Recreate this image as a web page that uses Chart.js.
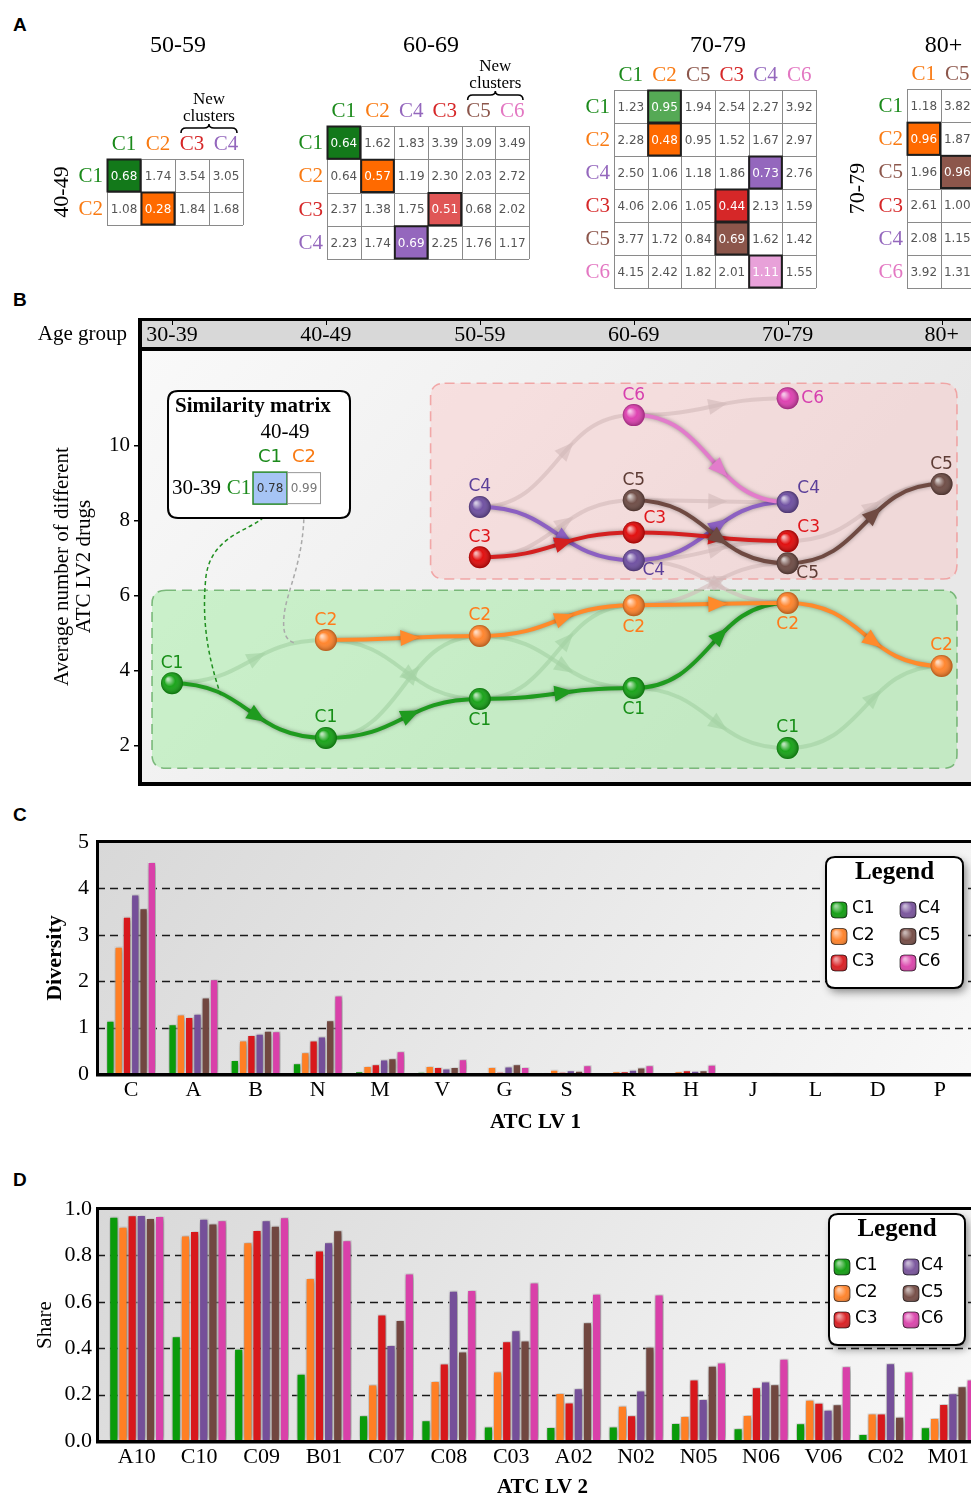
<!DOCTYPE html>
<html lang="en">
<head>
<meta charset="UTF-8">
<title>Clusters by age group</title>
<script src="https://cdn.jsdelivr.net/npm/chart.js"></script>
<style>
  html, body { margin: 0; padding: 0; background: #fff; overflow: hidden; }
  #page { position: relative; width: 971px; height: 1497px; overflow: hidden; }
  #page canvas { position: absolute; }
  .tag { position: absolute; font: bold 19px "Liberation Sans", Arial, sans-serif; color: #000; }
</style>
</head>
<body>
<div id="page">
  <div class="tag" style="left:13px;top:14px">A</div>
  <div class="tag" style="left:13px;top:289px">B</div>
  <div class="tag" style="left:13px;top:804px">C</div>
  <div class="tag" style="left:13px;top:1169px">D</div>
  <canvas id="m1" width="210" height="215" style="left:40px;top:20px"></canvas>
  <canvas id="m2" width="260" height="250" style="left:280px;top:20px"></canvas>
  <canvas id="m3" width="260" height="275" style="left:570px;top:20px"></canvas>
  <canvas id="m4" width="150" height="275" style="left:840px;top:20px"></canvas>
  <canvas id="flow" width="1010" height="510" style="left:0;top:290px"></canvas>
  <canvas id="lv1" width="990" height="324" style="left:0;top:816px"></canvas>
  <canvas id="lv2" width="990" height="329" style="left:0;top:1181px"></canvas>
</div>
<script>
// ---- panel A: similarity matrices ----
const m1Cols = ['C1', 'C2', 'C3', 'C4'];
const m1Rows = ['C1', 'C2'];
const m1Values = [
  [0.68, 1.74, 3.54, 3.05],
  [1.08, 0.28, 1.84, 1.68]
];
const m1Best = [[0, 0], [1, 1]];

const m2Cols = ['C1', 'C2', 'C4', 'C3', 'C5', 'C6'];
const m2Rows = ['C1', 'C2', 'C3', 'C4'];
const m2Values = [
  [0.64, 1.62, 1.83, 3.39, 3.09, 3.49],
  [0.64, 0.57, 1.19, 2.30, 2.03, 2.72],
  [2.37, 1.38, 1.75, 0.51, 0.68, 2.02],
  [2.23, 1.74, 0.69, 2.25, 1.76, 1.17]
];
const m2Best = [[0, 0], [1, 1], [2, 3], [3, 2]];

const m3Cols = ['C1', 'C2', 'C5', 'C3', 'C4', 'C6'];
const m3Rows = ['C1', 'C2', 'C4', 'C3', 'C5', 'C6'];
const m3Values = [
  [1.23, 0.95, 1.94, 2.54, 2.27, 3.92],
  [2.28, 0.48, 0.95, 1.52, 1.67, 2.97],
  [2.50, 1.06, 1.18, 1.86, 0.73, 2.76],
  [4.06, 2.06, 1.05, 0.44, 2.13, 1.59],
  [3.77, 1.72, 0.84, 0.69, 1.62, 1.42],
  [4.15, 2.42, 1.82, 2.01, 1.11, 1.55]
];
const m3Best = [[0, 1], [1, 1], [2, 4], [3, 3], [4, 3], [5, 4]];

const m4Cols = ['C1', 'C5'];
const m4Rows = ['C1', 'C2', 'C5', 'C3', 'C4', 'C6'];
const m4Values = [
  [1.18, 3.82],
  [0.96, 1.87],
  [1.96, 0.96],
  [2.61, 1.00],
  [2.08, 1.15],
  [3.92, 1.31]
];
const m4Best = [[1, 0], [2, 1]];

// ---- panel B: cluster trajectories ----
const ageGroups = ['30-39', '40-49', '50-59', '60-69', '70-79', '80+'];
const nodeAge = [0, 1, 1, 2, 2, 2, 2, 3, 3, 3, 3, 3, 3, 4, 4, 4, 4, 4, 4, 5, 5];
const nodeCluster = ['C1', 'C1', 'C2', 'C1', 'C2', 'C3', 'C4', 'C1', 'C2', 'C3', 'C4', 'C5', 'C6',
                     'C1', 'C2', 'C3', 'C4', 'C5', 'C6', 'C2', 'C5'];
const nodeValue = [3.67, 2.21, 4.82, 3.25, 4.93, 7.03, 8.37, 3.54, 5.75, 7.69, 6.95, 8.55, 10.82,
                   1.94, 5.81, 7.46, 8.50, 6.87, 11.27, 4.13, 8.98];
const mainLinks = [[0, 1], [1, 3], [3, 7], [7, 14], [2, 4], [4, 8], [8, 14], [14, 19],
                   [6, 10], [10, 16], [5, 9], [9, 15], [12, 16], [11, 17], [17, 20]];
const otherLinks = [[0, 2], [2, 3], [1, 4], [4, 7], [3, 8], [7, 13], [13, 19],
                    [6, 12], [5, 11], [12, 18], [11, 16], [10, 15], [15, 20], [10, 14], [8, 17]];
const flowTicks = [2, 4, 6, 8, 10];
const insetValues = [0.78, 0.99];

// ---- panels C and D ----
const atcLv1 = ['C', 'A', 'B', 'N', 'M', 'V', 'G', 'S', 'R', 'H', 'J', 'L', 'D', 'P'];
const divC1 = [1.15, 1.07, 0.30, 0.23, 0.06, 0.05, 0.04, 0.04, 0.02, 0.02, 0.01, 0.005, 0.005, 0.005];
const divC2 = [2.74, 1.28, 0.72, 0.47, 0.17, 0.17, 0.15, 0.09, 0.06, 0.06, 0.02, 0.01, 0.01, 0.01];
const divC3 = [3.39, 1.23, 0.84, 0.72, 0.21, 0.15, 0.05, 0.05, 0.06, 0.08, 0.02, 0.01, 0.01, 0.01];
const divC4 = [3.87, 1.30, 0.87, 0.81, 0.31, 0.12, 0.16, 0.08, 0.09, 0.07, 0.02, 0.01, 0.01, 0.01];
const divC5 = [3.57, 1.65, 0.93, 1.16, 0.34, 0.15, 0.21, 0.07, 0.14, 0.08, 0.02, 0.02, 0.01, 0.01];
const divC6 = [4.57, 2.04, 0.92, 1.69, 0.49, 0.32, 0.15, 0.19, 0.19, 0.20, 0.04, 0.03, 0.01, 0.01];
const divTicks = [0, 1, 2, 3, 4, 5];

const atcLv2 = ['A10', 'C10', 'C09', 'B01', 'C07', 'C08', 'C03', 'A02', 'N02', 'N05', 'N06', 'V06', 'C02', 'M01'];
const shareC1 = [0.967, 0.451, 0.398, 0.290, 0.111, 0.089, 0.062, 0.060, 0.062, 0.078, 0.055, 0.076, 0.030, 0.059];
const shareC2 = [0.924, 0.886, 0.857, 0.703, 0.244, 0.259, 0.300, 0.207, 0.152, 0.108, 0.112, 0.178, 0.118, 0.099];
const shareC3 = [0.973, 0.905, 0.909, 0.821, 0.545, 0.334, 0.430, 0.166, 0.111, 0.265, 0.232, 0.165, 0.118, 0.160];
const shareC4 = [0.974, 0.958, 0.952, 0.857, 0.414, 0.648, 0.477, 0.227, 0.218, 0.181, 0.256, 0.135, 0.335, 0.206];
const shareC5 = [0.961, 0.938, 0.928, 0.908, 0.522, 0.386, 0.433, 0.512, 0.406, 0.324, 0.245, 0.158, 0.104, 0.236];
const shareC6 = [0.970, 0.952, 0.964, 0.865, 0.722, 0.651, 0.683, 0.635, 0.632, 0.338, 0.354, 0.322, 0.300, 0.265];
const shareTicks = [0, 0.2, 0.4, 0.6, 0.8, 1.0];

// ---- styling ----
const serif = '"Liberation Serif", "Times New Roman", serif';
const sans = '"DejaVu Sans", sans-serif';
const labelColor = { C1: '#1b8a1b', C2: '#f97a12', C3: '#d62728', C4: '#9467bd', C5: '#8c564b', C6: '#e377c2' };
const nodeColor = { C1: '#10a010', C2: '#ff8025', C3: '#e00404', C4: '#6a4a9e', C5: '#6a4740', C6: '#dd3aae' };
const nodeText = { C1: '#168e16', C2: '#ff7b1a', C3: '#e0161b', C4: '#5b3f99', C5: '#5e3c35', C6: '#d63fae' };
const linkColor = { C1: '#1f9b1f', C2: '#ff8a2b', C3: '#d42020', C4: '#8c60c2', C5: '#6f4a42', C6: '#e27ccb' };
const barColors = ['#0a9b0a', '#ff7f24', '#d8181c', '#754f99', '#714740', '#d940a9'];
// where each node label sits: above, below, right, above-right, below-right
const nodeLabelPos = ['a', 'a', 'a', 'b', 'a', 'a', 'a', 'b', 'b', 'ar', 'br', 'a', 'a',
                      'a', 'b', 'ar', 'ar', 'br', 'r', 'a', 'a'];
const labelOffset = { a: [0, -20], b: [0, 22], r: [25, 0], ar: [21, -14], br: [20, 10] };

Chart.defaults.font.family = sans;
Chart.defaults.animation = false;
Chart.defaults.responsive = false;
Chart.defaults.events = [];
Chart.defaults.plugins.legend.display = false;
Chart.defaults.plugins.tooltip.enabled = false;

function rrect(ctx, x, y, w, h, r) {
  ctx.beginPath();
  ctx.moveTo(x + r, y);
  ctx.lineTo(x + w - r, y); ctx.quadraticCurveTo(x + w, y, x + w, y + r);
  ctx.lineTo(x + w, y + h - r); ctx.quadraticCurveTo(x + w, y + h, x + w - r, y + h);
  ctx.lineTo(x + r, y + h); ctx.quadraticCurveTo(x, y + h, x, y + h - r);
  ctx.lineTo(x, y + r); ctx.quadraticCurveTo(x, y, x + r, y);
  ctx.closePath();
}

// matrix cells are floating bars [row, row+1] on a reversed y scale
function matrix(id, title, cols, rows, values, best, bestFill, deco) {
  const colColors = deco.colColors || cols.map(c => labelColor[c]);
  const isBest = (r, c) => best.some(b => b[0] === r && b[1] === c);
  const plugin = {
    id: 'matrixDeco',
    afterDatasetsDraw(chart) {
      const { ctx, chartArea: a, scales: { x, y } } = chart;
      ctx.save();
      ctx.strokeStyle = '#8a8a8a';
      ctx.lineWidth = 1;
      ctx.beginPath();
      for (let r = 0; r <= rows.length; r++) {
        const py = Math.round(y.getPixelForValue(r)) + 0.5;
        ctx.moveTo(a.left, py); ctx.lineTo(a.right, py);
      }
      for (let c = 0; c <= cols.length; c++) {
        const px = Math.round(x.getPixelForValue(c - 0.5)) + 0.5;
        ctx.moveTo(px, a.top); ctx.lineTo(px, a.bottom);
      }
      ctx.stroke();
      ctx.textAlign = 'center';
      ctx.textBaseline = 'middle';
      rows.forEach((row, r) => {
        chart.getDatasetMeta(r).data.forEach((el, c) => {
          const top = Math.min(el.y, el.base), h = Math.abs(el.base - el.y);
          const b = isBest(r, c);
          if (b) {
            ctx.lineWidth = 2;
            ctx.strokeStyle = '#1e1e1e';
            ctx.strokeRect(el.x - el.width / 2 + 0.5, top + 0.5, el.width - 1, h - 1);
          }
          ctx.fillStyle = b ? '#ffffff' : '#555555';
          ctx.font = '12px ' + sans;
          ctx.fillText(values[r][c].toFixed(2), el.x, top + h / 2 + 1);
        });
      });
      ctx.font = '21px ' + serif;
      cols.forEach((c, i) => {
        ctx.fillStyle = colColors[i];
        ctx.fillText(c, x.getPixelForValue(i), a.top - 15);
      });
      ctx.textAlign = 'right';
      rows.forEach((r, i) => {
        ctx.fillStyle = labelColor[r];
        ctx.fillText(r, a.left - 4, y.getPixelForValue(i + 0.5) + 1);
      });
      ctx.textAlign = 'center';
      ctx.fillStyle = '#000';
      ctx.font = '24px ' + serif;
      ctx.fillText(title, (a.left + a.right) / 2 + 3, 26);
      if (deco.newFrom !== undefined) {
        const x0 = x.getPixelForValue(deco.newFrom - 0.5) + 6;
        const x1 = x.getPixelForValue(deco.newTo + 0.5) - 6;
        const by = a.top - 31, xm = (x0 + x1) / 2;
        ctx.strokeStyle = '#000';
        ctx.lineWidth = 1.6;
        ctx.beginPath();
        ctx.moveTo(x0, by + 5); ctx.quadraticCurveTo(x0, by, x0 + 5, by);
        ctx.lineTo(xm - 5, by); ctx.quadraticCurveTo(xm, by, xm, by - 4);
        ctx.quadraticCurveTo(xm, by, xm + 5, by);
        ctx.lineTo(x1 - 5, by); ctx.quadraticCurveTo(x1, by, x1, by + 5);
        ctx.stroke();
        ctx.font = '17px ' + serif;
        ctx.fillText('New', xm, by - 28);
        ctx.fillText('clusters', xm, by - 11);
      }
      if (deco.group) {
        ctx.translate(deco.groupX, (a.top + a.bottom) / 2);
        ctx.rotate(-Math.PI / 2);
        ctx.font = '22px ' + serif;
        ctx.fillText(deco.group, 0, 0);
      }
      ctx.restore();
    }
  };
  return new Chart(document.getElementById(id), {
    type: 'bar',
    data: {
      labels: cols,
      datasets: rows.map((r, ri) => ({
        label: r,
        data: cols.map(() => [ri, ri + 1]),
        backgroundColor: cols.map((c, ci) => {
          const k = best.findIndex(b => b[0] === ri && b[1] === ci);
          return k < 0 ? '#ffffff' : bestFill[k];
        }),
        borderWidth: 0,
        grouped: false,
        barPercentage: 1,
        categoryPercentage: 1
      }))
    },
    options: {
      layout: { padding: deco.pad },
      scales: {
        x: { display: false },
        y: { display: false, min: 0, max: rows.length, reverse: true }
      }
    },
    plugins: [plugin]
  });
}

matrix('m1', '50-59', m1Cols, m1Rows, m1Values, m1Best, ['#13791a', '#ff6a00'],
  { pad: { left: 67, top: 139, right: 7, bottom: 10 }, newFrom: 2, newTo: 3, group: '40-49', groupX: 22 });
matrix('m2', '60-69', m2Cols, m2Rows, m2Values, m2Best, ['#13791a', '#ff6a00', '#e05656', '#9467bd'],
  { pad: { left: 47, top: 106, right: 11, bottom: 11 }, newFrom: 4, newTo: 5 });
matrix('m3', '70-79', m3Cols, m3Rows, m3Values, m3Best,
  ['#55a955', '#ff6a00', '#9467bd', '#d62728', '#8c564b', '#e8a1d9'],
  { pad: { left: 44, top: 70, right: 14, bottom: 7 } });
matrix('m4', '80+', m4Cols, m4Rows, m4Values, m4Best, ['#ff6a00', '#8c564b'],
  { pad: { left: 67, top: 69, right: 16, bottom: 7 }, group: '70-79', groupX: 18,
    colColors: ['#f97a12', '#8c564b'] });

// ---- panel B ----
function bezAt(p, q, t) {
  const mx = (p.x + q.x) / 2, u = 1 - t;
  return {
    x: u * u * u * p.x + 3 * u * u * t * mx + 3 * u * t * t * mx + t * t * t * q.x,
    y: u * u * u * p.y + 3 * u * u * t * p.y + 3 * u * t * t * q.y + t * t * t * q.y
  };
}
function drawLink(ctx, p, q, color) {
  const mx = (p.x + q.x) / 2;
  ctx.strokeStyle = color;
  ctx.fillStyle = color;
  ctx.lineWidth = 4;
  ctx.beginPath();
  ctx.moveTo(p.x, p.y);
  ctx.bezierCurveTo(mx, p.y, mx, q.y, q.x, q.y);
  ctx.stroke();
  const tip = bezAt(p, q, 0.64), back = bezAt(p, q, 0.58);
  const ang = Math.atan2(tip.y - back.y, tip.x - back.x);
  const c = Math.cos(ang), s = Math.sin(ang), len = 19, half = 8;
  ctx.beginPath();
  ctx.moveTo(tip.x, tip.y);
  ctx.lineTo(tip.x - len * c - half * s, tip.y - len * s + half * c);
  ctx.lineTo(tip.x - len * c + half * s, tip.y - len * s - half * c);
  ctx.closePath();
  ctx.fill();
}

const greenZone = { x: [-0.13, 5.1], y: [6.15, 1.4] };
const pinkZone = { x: [1.68, 5.1], y: [11.67, 6.45] };
const insetAnchor = [-0.026, 11.46];

const flowDeco = {
  id: 'flowDeco',
  beforeDraw(chart) {
    const { ctx, chartArea: a, width } = chart;
    ctx.save();
    const g = ctx.createLinearGradient(a.left, a.top, a.left + 500, a.bottom);
    g.addColorStop(0, '#f9f9f9');
    g.addColorStop(1, '#e8e8e8');
    ctx.fillStyle = g;
    ctx.fillRect(a.left, a.top, width - a.left, a.bottom - a.top);
    ctx.fillStyle = '#d8d8d8';
    ctx.fillRect(a.left, a.top - 30, width - a.left, 26);
    ctx.restore();
  },
  beforeDatasetsDraw(chart) {
    const { ctx, scales: { x, y } } = chart;
    const pts = chart.getDatasetMeta(0).data;
    ctx.save();
    [[greenZone, 'rgba(150,235,150,0.45)', 'rgba(90,165,90,0.75)'],
     [pinkZone, 'rgba(255,190,190,0.35)', 'rgba(240,150,150,0.8)']].forEach(([z, fill, line]) => {
      const x0 = x.getPixelForValue(z.x[0]), x1 = x.getPixelForValue(z.x[1]);
      const y0 = y.getPixelForValue(z.y[0]), y1 = y.getPixelForValue(z.y[1]);
      rrect(ctx, x0, y0, x1 - x0, y1 - y0, 14);
      ctx.fillStyle = fill;
      ctx.fill();
      ctx.setLineDash([10, 6]);
      ctx.lineWidth = 1.6;
      ctx.strokeStyle = line;
      ctx.stroke();
    });
    ctx.setLineDash([]);
    ctx.lineCap = 'round';
    const lowGroup = c => c === 'C1' || c === 'C2';
    otherLinks.forEach(([i, j]) => {
      const both = lowGroup(nodeCluster[i]) && lowGroup(nodeCluster[j]);
      drawLink(ctx, pts[i], pts[j], both ? 'rgba(165,210,165,0.65)' : 'rgba(210,185,185,0.6)');
    });
    ctx.shadowColor = 'rgba(0,0,0,0.35)';
    ctx.shadowBlur = 4;
    mainLinks.forEach(([i, j]) => drawLink(ctx, pts[i], pts[j], linkColor[nodeCluster[i]]));
    ctx.restore();
  },
  afterDatasetsDraw(chart) {
    const { ctx, scales: { x, y } } = chart;
    const pts = chart.getDatasetMeta(0).data;
    ctx.save();
    pts.forEach((el, i) => {
      const g = ctx.createRadialGradient(el.x - 4, el.y - 4, 1, el.x, el.y, 11);
      g.addColorStop(0, 'rgba(255,255,255,0.7)');
      g.addColorStop(0.45, 'rgba(255,255,255,0.05)');
      g.addColorStop(1, 'rgba(0,0,0,0.3)');
      ctx.fillStyle = g;
      ctx.beginPath();
      ctx.arc(el.x, el.y, 11, 0, Math.PI * 2);
      ctx.fill();
      const off = labelOffset[nodeLabelPos[i]];
      ctx.font = '17px ' + sans;
      ctx.textAlign = 'center';
      ctx.textBaseline = 'middle';
      ctx.fillStyle = nodeText[nodeCluster[i]];
      ctx.fillText(nodeCluster[i], el.x + off[0], el.y + off[1]);
    });

    // similarity matrix inset
    const bx = x.getPixelForValue(insetAnchor[0]), by = y.getPixelForValue(insetAnchor[1]);
    ctx.lineWidth = 1.5;
    ctx.setLineDash([4, 3]);
    ctx.strokeStyle = '#1f8f1f';
    ctx.beginPath();
    ctx.moveTo(bx + 102, by + 114);
    ctx.bezierCurveTo(bx + 100, by + 140, bx + 45, by + 135, bx + 38, by + 185);
    ctx.bezierCurveTo(bx + 32, by + 240, bx + 45, by + 280, bx + 53, by + 305);
    ctx.stroke();
    ctx.strokeStyle = '#aaaaaa';
    ctx.beginPath();
    ctx.moveTo(bx + 136, by + 114);
    ctx.bezierCurveTo(bx + 137, by + 170, bx + 118, by + 200, bx + 116, by + 225);
    ctx.bezierCurveTo(bx + 114, by + 245, bx + 120, by + 250, bx + 127, by + 252);
    ctx.stroke();
    ctx.setLineDash([]);
    rrect(ctx, bx, by, 182, 127, 10);
    ctx.fillStyle = '#fff';
    ctx.fill();
    ctx.lineWidth = 2;
    ctx.strokeStyle = '#000';
    ctx.stroke();
    ctx.fillStyle = '#000';
    ctx.textAlign = 'left';
    ctx.font = 'bold 21px ' + serif;
    ctx.fillText('Similarity matrix', bx + 7, by + 15);
    ctx.textAlign = 'center';
    ctx.font = '21px ' + serif;
    ctx.fillText('40-49', bx + 117, by + 41);
    ctx.textAlign = 'left';
    ctx.fillText('30-39', bx + 4, by + 97);
    ctx.textAlign = 'center';
    ctx.fillStyle = labelColor.C1;
    ctx.fillText('C1', bx + 71, by + 97);
    ctx.font = '18px ' + sans;
    ctx.fillText('C1', bx + 102, by + 66);
    ctx.fillStyle = labelColor.C2;
    ctx.fillText('C2', bx + 136, by + 66);
    ctx.fillStyle = '#a6c4f5';
    ctx.fillRect(bx + 85, by + 81, 34, 32);
    ctx.lineWidth = 1.5;
    ctx.strokeStyle = '#2a8a2a';
    ctx.strokeRect(bx + 85, by + 81, 34, 32);
    ctx.lineWidth = 1;
    ctx.strokeStyle = '#999';
    ctx.strokeRect(bx + 119.5, by + 81.5, 33, 31);
    ctx.font = '12px ' + sans;
    ctx.fillStyle = '#333';
    ctx.fillText(insetValues[0].toFixed(2), bx + 102, by + 98);
    ctx.fillStyle = '#777';
    ctx.fillText(insetValues[1].toFixed(2), bx + 136, by + 98);
    ctx.restore();
  },
  afterDraw(chart) {
    const { ctx, chartArea: a, width, scales: { x } } = chart;
    ctx.save();
    ctx.fillStyle = '#000';
    const L = a.left - 4, W = width - L;
    ctx.fillRect(L, a.top - 33, W, 3);
    ctx.fillRect(L, a.top - 4, W, 4);
    ctx.fillRect(L, a.bottom, W, 4);
    ctx.fillRect(L, a.top - 33, 4, a.bottom + 4 - (a.top - 33));
    ageGroups.forEach((g, i) => {
      const px = Math.round(x.getPixelForValue(i)) + 0.5;
      ctx.fillRect(px - 0.5, a.top - 30, 1, 4);
    });
    ctx.font = '21px ' + serif;
    ctx.textAlign = 'right';
    ctx.textBaseline = 'middle';
    ctx.fillText('Age group', a.left - 15, a.top - 17);
    ctx.restore();
  }
};

new Chart(document.getElementById('flow'), {
  type: 'scatter',
  data: {
    datasets: [{
      data: nodeValue.map((v, i) => ({ x: nodeAge[i], y: v })),
      pointRadius: 11,
      backgroundColor: nodeCluster.map(c => nodeColor[c]),
      borderWidth: 0
    }]
  },
  options: {
    layout: { padding: { top: 28, right: 2.7, bottom: 18, left: 0 } },
    scales: {
      x: {
        type: 'linear', position: 'top', min: -0.195, max: 5.373,
        afterFit: s => { s.height = 33; },
        afterBuildTicks: s => { s.ticks = ageGroups.map((g, i) => ({ value: i })); },
        ticks: { callback: v => ageGroups[v], font: { family: serif, size: 22 }, color: '#000',
                 padding: 3, maxRotation: 0, autoSkip: false },
        grid: { display: false, drawTicks: false },
        border: { display: false }
      },
      y: {
        min: 1.035, max: 12.53,
        afterFit: s => { s.width = 142; },
        afterBuildTicks: s => { s.ticks = flowTicks.map(v => ({ value: v })); },
        ticks: { font: { family: serif, size: 21 }, color: '#000', padding: 4 },
        grid: { drawOnChartArea: false, drawTicks: true, tickLength: 8, color: '#000', lineWidth: 1.5 },
        border: { display: false },
        title: {
          display: true,
          text: ['Average number of different', 'ATC LV2 drugs'],
          font: { family: serif, size: 21, lineHeight: 1.05 },
          color: '#000',
          padding: { top: 51, bottom: 0 }
        }
      }
    }
  },
  plugins: [flowDeco]
});

// ---- panels C and D ----
function barDeco(gap, gridVals, legendBox) {
  return {
    id: 'barDeco',
    beforeDraw(chart) {
      const { ctx, chartArea: a, width, scales: { y } } = chart;
      const L = a.left - gap;
      ctx.save();
      const g = ctx.createLinearGradient(L, a.top, L + 760, a.bottom + 260);
      g.addColorStop(0, '#d8d8d8');
      g.addColorStop(1, '#fafafa');
      ctx.fillStyle = g;
      ctx.fillRect(L, a.top, width - L, a.bottom - a.top);
      ctx.strokeStyle = '#1a1a1a';
      ctx.lineWidth = 1.5;
      ctx.setLineDash([8, 5]);
      gridVals.forEach(v => {
        const py = Math.round(y.getPixelForValue(v)) + 0.5;
        ctx.beginPath();
        ctx.moveTo(L, py);
        ctx.lineTo(width, py);
        ctx.stroke();
      });
      ctx.restore();
    },
    beforeDatasetsDraw(chart) {
      const ctx = chart.ctx;
      ctx.save();
      ctx.shadowColor = 'rgba(0,0,0,0.6)';
      ctx.shadowBlur = 6;
      ctx.shadowOffsetX = 1;
      ctx.shadowOffsetY = 0;
    },
    afterDatasetsDraw(chart) {
      chart.ctx.restore();
    },
    afterDraw(chart) {
      const { ctx, chartArea: a, width } = chart;
      const L = a.left - gap;
      ctx.save();
      ctx.fillStyle = '#000';
      ctx.fillRect(L - 1, a.top - 2, width - L, 3);
      ctx.fillRect(L - 1, a.top - 2, 3, a.bottom - a.top + 4);
      ctx.fillRect(L - 1, a.bottom - 1, width - L, 3.5);

      const lx = a.right + legendBox.dx, ly = a.top + legendBox.dy;
      ctx.save();
      ctx.shadowColor = 'rgba(0,0,0,0.45)';
      ctx.shadowBlur = 8;
      ctx.shadowOffsetX = 3;
      ctx.shadowOffsetY = 4;
      rrect(ctx, lx, ly, legendBox.w, legendBox.h, 9);
      ctx.fillStyle = '#fff';
      ctx.fill();
      ctx.restore();
      rrect(ctx, lx, ly, legendBox.w, legendBox.h, 9);
      ctx.lineWidth = 2;
      ctx.strokeStyle = '#000';
      ctx.stroke();
      ctx.fillStyle = '#000';
      ctx.textAlign = 'center';
      ctx.textBaseline = 'middle';
      ctx.font = 'bold 25px ' + serif;
      ctx.fillText('Legend', lx + legendBox.w / 2, ly + 16);
      chart.data.datasets.forEach((ds, i) => {
        const col = Math.floor(i / 3), row = i % 3;
        const mx = lx + 13 + col * 69, my = ly + 52 + row * 26.5;
        rrect(ctx, mx - 8, my - 7, 16, 16, 4);
        ctx.fillStyle = ds.backgroundColor;
        ctx.fill();
        const g = ctx.createRadialGradient(mx - 3, my - 3, 1, mx, my + 1, 11);
        g.addColorStop(0, 'rgba(255,255,255,0.6)');
        g.addColorStop(0.5, 'rgba(255,255,255,0.05)');
        g.addColorStop(1, 'rgba(0,0,0,0.35)');
        ctx.fillStyle = g;
        ctx.fill();
        ctx.lineWidth = 1;
        ctx.strokeStyle = 'rgba(0,0,0,0.6)';
        ctx.stroke();
        ctx.fillStyle = '#000';
        ctx.textAlign = 'left';
        ctx.font = '17px ' + sans;
        ctx.fillText(ds.label, lx + 26 + col * 66, my);
      });
      ctx.restore();
    }
  };
}

function barPanel(id, labels, series, ticks, cfg) {
  return new Chart(document.getElementById(id), {
    type: 'bar',
    data: {
      labels,
      datasets: series.map((d, i) => ({
        label: 'C' + (i + 1),
        data: d,
        backgroundColor: barColors[i],
        borderColor: 'rgba(255,255,255,0.85)',
        borderWidth: 1,
        barPercentage: 1,
        categoryPercentage: cfg.cat
      }))
    },
    options: {
      layout: { padding: cfg.pad },
      scales: {
        x: {
          afterFit: s => { s.height = cfg.xHeight; },
          ticks: { font: { family: serif, size: 22 }, color: '#000', padding: 3, maxRotation: 0, autoSkip: false },
          grid: { display: false, drawTicks: false },
          border: { display: false },
          title: { display: true, text: cfg.xTitle, font: { family: serif, size: 21, weight: 'bold' },
                   color: '#000', padding: { top: 0, bottom: cfg.xTitlePad } }
        },
        y: {
          min: ticks[0], max: ticks[ticks.length - 1],
          afterFit: s => { s.width = 97; },
          afterBuildTicks: s => { s.ticks = ticks.map(v => ({ value: v })); },
          ticks: { font: { family: serif, size: 22 }, color: '#000', padding: cfg.tickPad,
                   callback: cfg.fmt },
          grid: { display: false, drawTicks: false },
          border: { display: false },
          title: { display: true, text: cfg.yTitle, color: '#000',
                   font: { family: serif, size: cfg.yTitleSize, weight: cfg.yTitleWeight },
                   padding: { top: cfg.yTitlePad, bottom: 0 } }
        }
      }
    },
    plugins: [barDeco(cfg.gap, ticks.slice(1, -1), cfg.legend)]
  });
}

barPanel('lv1', atcLv1, [divC1, divC2, divC3, divC4, divC5, divC6], divTicks, {
  cat: 0.80, gap: 3, pad: { left: 3, right: 19, top: 26, bottom: 0 }, xHeight: 66,
  xTitle: 'ATC LV 1', xTitlePad: 5, tickPad: 11, fmt: v => String(v),
  yTitle: 'Diversity', yTitleSize: 22, yTitleWeight: 'bold', yTitlePad: 38.8,
  legend: { dx: -145, dy: 15, w: 137, h: 131 }
});

barPanel('lv2', atcLv2, [shareC1, shareC2, shareC3, shareC4, shareC5, shareC6], shareTicks, {
  cat: 0.88, gap: 8.5, pad: { left: 8.5, right: 10.5, top: 28, bottom: 0 }, xHeight: 69,
  xTitle: 'ATC LV 2', xTitlePad: 9.4, tickPad: 13.5, fmt: v => v.toFixed(1),
  yTitle: 'Share', yTitleSize: 21, yTitleWeight: 'normal', yTitlePad: 23.9,
  legend: { dx: -150.5, dy: 5, w: 136, h: 131 }
});
</script>
</body>
</html>
